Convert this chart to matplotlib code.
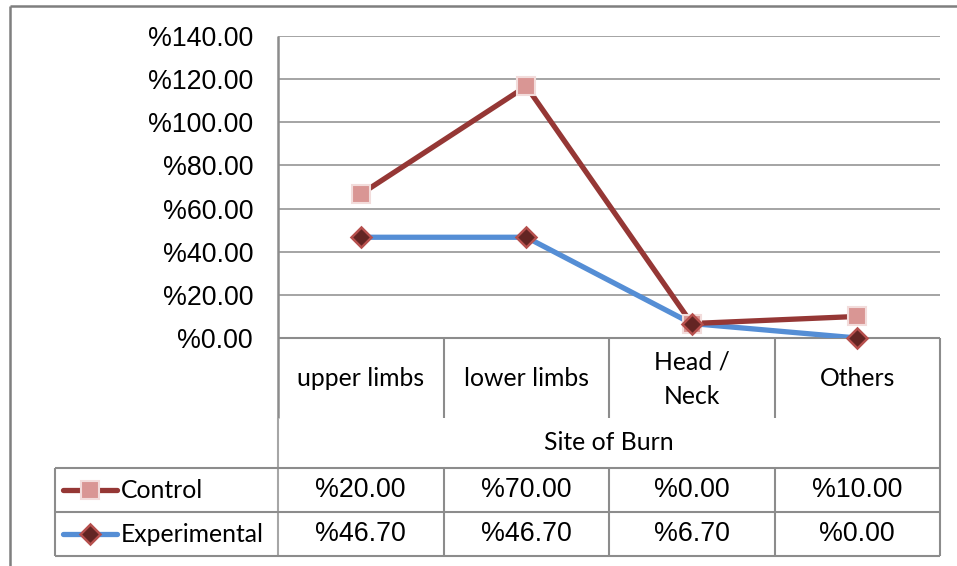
import matplotlib
matplotlib.use("Agg")
import matplotlib.pyplot as plt
import numpy as np
from matplotlib.ticker import FuncFormatter

# ---- data ----
categories = ["upper limbs", "lower limbs", "Head /\nNeck", "Others"]
axis_title = "Site of Burn"
series_names = ["Control", "Experimental"]
control = [20.0, 70.0, 0.0, 10.0]
experimental = [46.7, 46.7, 6.7, 0.0]
yticks = [0, 20, 40, 60, 80, 100, 120, 140]

W, H = 957, 566
fig = plt.figure(figsize=(W / 100, H / 100), dpi=100)

# pixel layout
L, R, T, B = 278, 940, 36, 338

ov = fig.add_axes([0, 0, 1, 1], zorder=0)
ov.set_xlim(0, W)
ov.set_ylim(H, 0)
ov.axis("off")

ax = fig.add_axes([L / W, (H - B) / H, (R - L) / W, (B - T) / H], zorder=2)
ax.patch.set_visible(False)

x = np.arange(len(categories))
exp_arr = np.array(experimental)
ctrl_stacked = exp_arr + np.array(control)  # stacked line chart

grid_c = "#8c8c8c"
ax.set_xlim(-0.5, len(categories) - 0.5)
ax.set_ylim(0, 140)
ax.set_yticks(yticks)
ax.yaxis.set_major_formatter(FuncFormatter(lambda v, p: "%{:.2f}".format(v)))
ax.grid(axis="y", color=grid_c, linewidth=1.1)
ax.set_axisbelow(True)
ax.set_xticks([])
for s in ax.spines.values():
    s.set_visible(False)
ax.tick_params(axis="y", length=0, pad=18, labelsize=19.3, labelcolor="black")
for lab in ax.get_yticklabels():
    lab.set_fontfamily("Liberation Sans")

c_line = "#953735"
c_mfc = "#D99694"
c_mec = "#F2DCDB"
e_line = "#558ED5"
e_mfc = "#632523"
e_mec = "#B6504D"

ax.plot(x, exp_arr, color=e_line, lw=3.8, zorder=3, solid_capstyle="round")
ax.plot(x, ctrl_stacked, color=c_line, lw=3.8, zorder=3, solid_capstyle="round")
ax.plot(x, ctrl_stacked, ls="none", marker="s", ms=13, mfc=c_mfc, mec=c_mec, mew=1.5, zorder=4, clip_on=False)
ax.plot(x, exp_arr, ls="none", marker="D", ms=10.5, mfc=e_mfc, mec=e_mec, mew=1.8, zorder=5, clip_on=False)

# ---- table / frame lines ----
lc = "#8c8c8c"
lw = 1.5
def hline(y, x0, x1, c=lc, w=lw):
    ov.plot([x0, x1], [y, y], color=c, lw=w, solid_capstyle="butt")
def vline(xx, y0, y1, c=lc, w=lw):
    ov.plot([xx, xx], [y0, y1], color=c, lw=w, solid_capstyle="butt")

# outer frame
vline(10, 6, H, c="#7f7f7f", w=1.8)
hline(6, 10, W, c="#7f7f7f", w=1.8)

n = len(categories)
colw = (R - L) / n
edges = [L + i * colw for i in range(n + 1)]

vline(L, T, 418, c="#8c8c8c", w=1.8)
vline(L, 418, 556, c="#a6a6a6", w=1.5)
for e in edges[1:-1]:
    vline(e, B, 418)
    vline(e, 468, 556)
vline(R, B, 556)
vline(55, 468, 556)
hline(B, L, R)
for yy in (468, 512, 556):
    hline(yy, 55, R)

cal = ["Lato", "DejaVu Sans"]
ari = ["Liberation Sans", "DejaVu Sans"]
fs_c = 17.8
centers = [(edges[i] + edges[i + 1]) / 2 for i in range(n)]
for cx, cat in zip(centers, categories):
    ov.text(cx, 379, cat, ha="center", va="center", fontsize=fs_c, family=cal, linespacing=1.6)
ov.text((L + R) / 2, 442, axis_title, ha="center", va="center", fontsize=fs_c, family=cal)

rows_y = [490, 534]
for ry, vals in zip(rows_y, [control, experimental]):
    for cx, v in zip(centers, vals):
        ov.text(cx, ry, "%{:.2f}".format(v), ha="center", va="center", fontsize=19.3, family=ari)

# legend keys
ov.plot([63, 117], [490, 490], color=c_line, lw=3.8, solid_capstyle="round")
ov.plot([90], [490], marker="s", ms=13, mfc=c_mfc, mec=c_mec, mew=1.5)
ov.plot([63, 117], [534, 534], color=e_line, lw=3.8, solid_capstyle="round")
ov.plot([90], [534], marker="D", ms=10.5, mfc=e_mfc, mec=e_mec, mew=1.8)
ov.text(121, 490, series_names[0], ha="left", va="center", fontsize=fs_c, family=cal)
ov.text(121, 534, series_names[1], ha="left", va="center", fontsize=fs_c, family=cal)

fig.savefig("out.png", dpi=100)
